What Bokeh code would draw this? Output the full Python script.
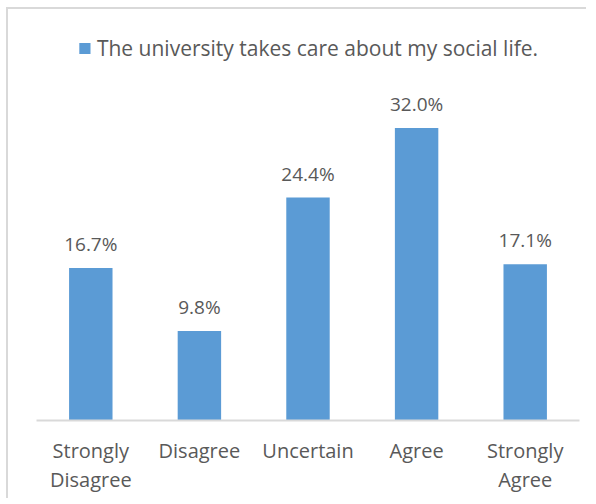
from bokeh.plotting import figure
from bokeh.models import ColumnDataSource, Range1d, Legend, LegendItem
from bokeh.core.properties import value
from bokeh.embed import file_html
from bokeh.resources import INLINE

categories = ["Strongly\nDisagree", "Disagree", "Uncertain", "Agree", "Strongly\nAgree"]
values = [16.7, 9.8, 24.4, 32.0, 17.1]
labels = ["16.7%", "9.8%", "24.4%", "32.0%", "17.1%"]
series_name = "The university takes care about my social life."

FONT = "Open Sans"
TXT = "#595959"
BLUE = "#5b9bd5"

src = ColumnDataSource(dict(cat=categories, val=values, lab=labels))

p = figure(width=580, height=491, x_range=categories,
           y_range=Range1d(0, 43.66), output_backend="svg",
           toolbar_location=None, min_border_left=28, min_border_right=9,
           min_border_top=12, min_border_bottom=80)
p.styles = {"border-top": "2px solid #d9d9d9", "border-left": "2px solid #d9d9d9",
            "margin-left": "6px", "margin-top": "7px"}
p.outline_line_color = None
p.grid.grid_line_color = None
p.yaxis.visible = False
p.background_fill_color = "white"
p.border_fill_color = "white"

r = p.vbar(x="cat", top="val", width=0.4, source=src, fill_color=BLUE, line_color=None)
p.text(x="cat", y="val", text="lab", source=src, text_align="center",
       text_baseline="alphabetic", y_offset=-24, text_font=value(FONT),
       text_font_size="19px", text_color=TXT)

xa = p.xaxis[0]
xa.axis_line_color = "#d9d9d9"
xa.axis_line_width = 2
xa.major_tick_line_color = None
xa.minor_tick_line_color = None
xa.major_label_text_font = FONT
xa.major_label_text_font_size = "20px"
xa.major_label_text_color = TXT
xa.major_label_text_line_height = 1.1
xa.major_label_standoff = 10

legend = Legend(items=[LegendItem(label=series_name, renderers=[r])],
                location="top_center", orientation="horizontal")
legend.label_text_font = FONT
legend.label_text_font_size = "21px"
legend.label_text_color = TXT
legend.glyph_width = 14
legend.glyph_height = 14
legend.label_standoff = 6
legend.border_line_color = None
legend.background_fill_alpha = 0
legend.padding = 0
legend.margin = 13
p.add_layout(legend)

open("out.html", "w").write(file_html(p, INLINE))
